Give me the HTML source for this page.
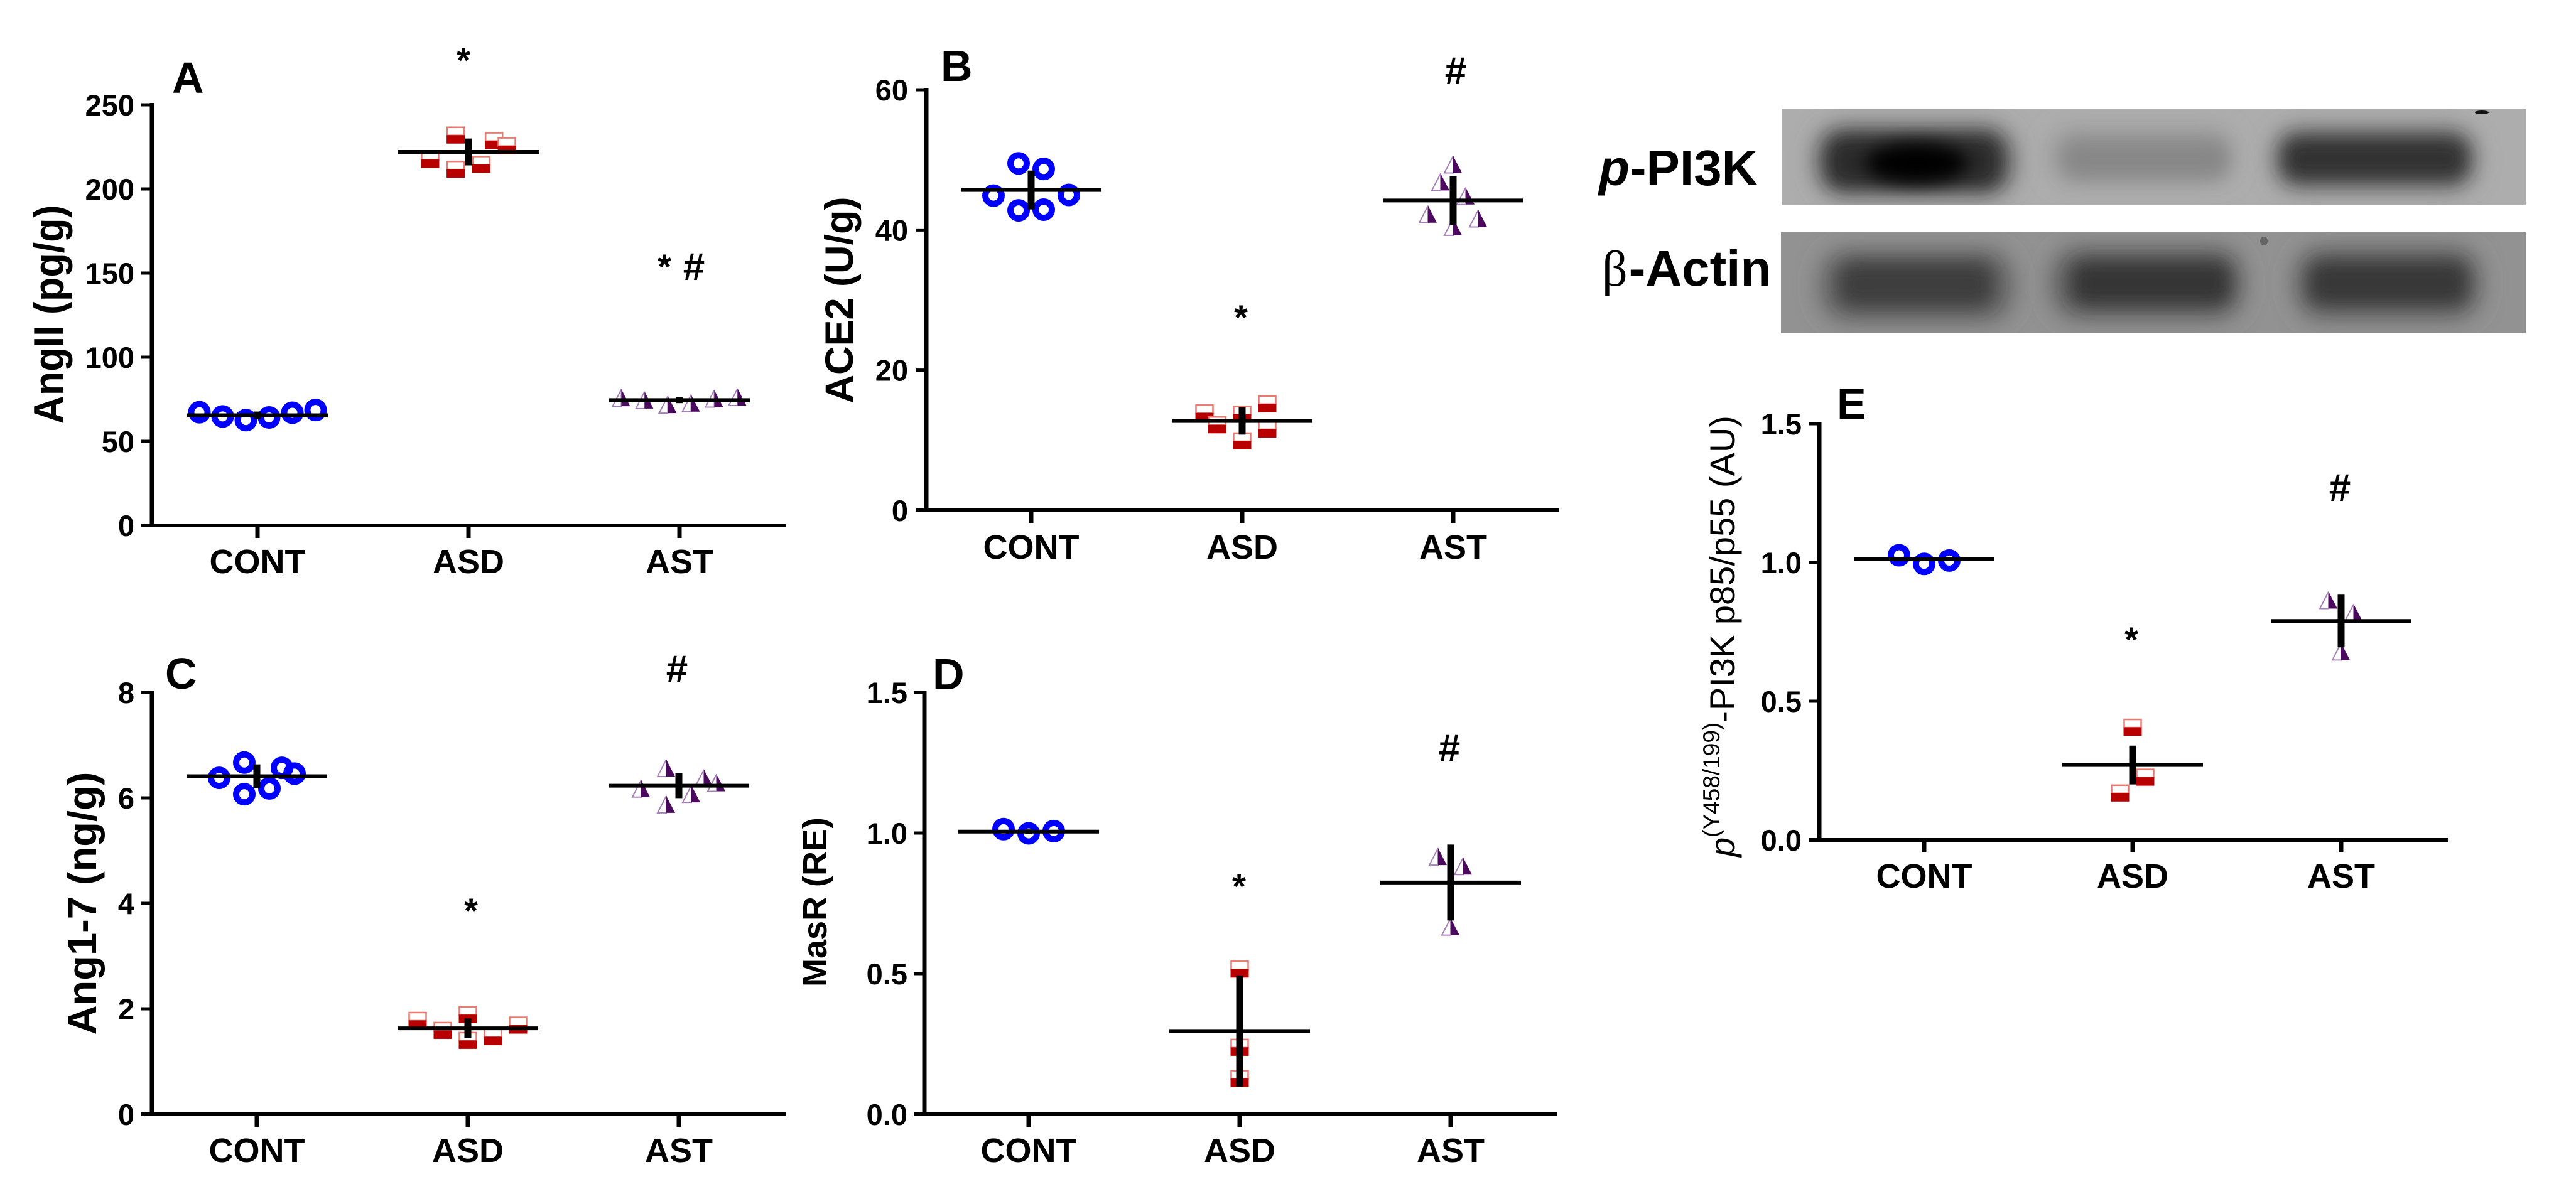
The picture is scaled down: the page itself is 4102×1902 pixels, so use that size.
<!DOCTYPE html>
<html lang="en">
<head>
<meta charset="utf-8">
<title>AngII, ACE2, Ang1-7, MasR and p-PI3K scatter plots</title>
<style>
html,body{margin:0;padding:0;background:#fff;width:4102px;height:1902px;overflow:hidden}
svg{display:block}
text{font-family:"Liberation Sans",sans-serif;fill:#000}
.tick{font-weight:700;font-size:47px}
.cat{font-weight:700;font-size:54px}
.letter{font-weight:700;font-size:70px}
.mark{font-weight:700}
.ytitle{font-weight:700}
</style>
</head>
<body>
<svg id="figure" xmlns="http://www.w3.org/2000/svg" width="4102" height="1902" viewBox="0 0 4102 1902">
  <defs>
    <filter id="blur-wide" x="-40%" y="-80%" width="180%" height="260%"><feGaussianBlur stdDeviation="18"/></filter>
    <filter id="blur-mid" x="-40%" y="-80%" width="180%" height="260%"><feGaussianBlur stdDeviation="14"/></filter>
    <clipPath id="clip-top-blot"><rect x="2838" y="174" width="1184" height="153"/></clipPath>
    <clipPath id="clip-bottom-blot"><rect x="2836" y="370" width="1186" height="161"/></clipPath>
  </defs>

  <!-- Western blot panels -->
  <g id="blot-top" clip-path="url(#clip-top-blot)">
    <rect x="2838" y="174" width="1184" height="153" fill="#adadad"/>
    <rect x="2890" y="200" width="318" height="112" rx="44" fill="#686868" filter="url(#blur-wide)"/>
    <rect x="2908" y="215" width="280" height="84" rx="30" fill="#2a2a2a" filter="url(#blur-mid)"/>
    <ellipse cx="3052" cy="260" rx="82" ry="32" fill="#000" filter="url(#blur-mid)"/>
    <rect x="3264" y="204" width="292" height="88" rx="36" fill="#9a9a9a" filter="url(#blur-wide)"/>
    <rect x="3285" y="224" width="262" height="58" rx="22" fill="#878787" filter="url(#blur-mid)"/>
    <rect x="3620" y="204" width="322" height="98" rx="40" fill="#6c6c6c" filter="url(#blur-wide)"/>
    <rect x="3636" y="220" width="292" height="66" rx="24" fill="#303030" filter="url(#blur-mid)"/>
    <ellipse cx="3952" cy="179" rx="11" ry="3" fill="#111"/>
  </g>
  <g id="blot-bottom" clip-path="url(#clip-bottom-blot)">
    <rect x="2836" y="370" width="1186" height="161" fill="#929292"/>
    <rect x="2898" y="398" width="308" height="114" rx="44" fill="#646464" filter="url(#blur-wide)"/>
    <rect x="2928" y="418" width="246" height="70" rx="24" fill="#3c3c3c" filter="url(#blur-mid)"/>
    <rect x="3266" y="394" width="306" height="114" rx="44" fill="#626262" filter="url(#blur-wide)"/>
    <rect x="3298" y="416" width="254" height="70" rx="24" fill="#343434" filter="url(#blur-mid)"/>
    <rect x="3654" y="394" width="296" height="114" rx="44" fill="#646464" filter="url(#blur-wide)"/>
    <rect x="3676" y="416" width="254" height="70" rx="24" fill="#383838" filter="url(#blur-mid)"/>
    <ellipse cx="3605" cy="384" rx="6" ry="7" fill="#666"/>
  </g>
  <text x="2546" y="295" font-size="80" font-weight="700"><tspan font-style="italic">p</tspan>-PI3K</text>
  <text x="2551" y="455" font-size="80" font-weight="700"><tspan font-family="'Liberation Serif',serif" font-weight="400">β</tspan><tspan dx="2">-Actin</tspan></text>

  <!-- Panel letters -->
  <text class="letter" x="274" y="148">A</text>
  <text class="letter" x="1498" y="129">B</text>
  <text class="letter" x="263" y="1097">C</text>
  <text class="letter" x="1485" y="1098">D</text>
  <text class="letter" x="2925" y="667">E</text>

  <!-- Y axis titles -->
  <text class="ytitle" font-size="68" text-anchor="middle" textLength="349" lengthAdjust="spacingAndGlyphs" transform="translate(101 501) rotate(-90)">AngII (pg/g)</text>
  <text class="ytitle" font-size="63" text-anchor="middle" transform="translate(1358 478) rotate(-90)">ACE2 (U/g)</text>
  <text class="ytitle" font-size="65" text-anchor="middle" transform="translate(153 1439) rotate(-90)">Ang1-7 (ng/g)</text>
  <text class="ytitle" font-size="54" text-anchor="middle" transform="translate(1316 1437) rotate(-90)">MasR (RE)</text>
  <text font-size="56" transform="translate(2762 1365) rotate(-90)"><tspan font-style="italic">p</tspan><tspan font-size="37" dy="-24">(Y458/199)</tspan><tspan dy="24">-PI3K p85/p55 (AU)</tspan></text>

  <!-- Significance marks -->
  <text class="mark" font-size="56" text-anchor="middle" x="738" y="115">*</text>
  <text class="mark" font-size="56" text-anchor="middle" x="1058" y="444">*</text>
  <text class="mark" font-size="62" text-anchor="middle" x="1105" y="446">#</text>
  <text class="mark" font-size="62" text-anchor="middle" x="2318" y="134">#</text>
  <text class="mark" font-size="56" text-anchor="middle" x="1976" y="525">*</text>
  <text class="mark" font-size="62" text-anchor="middle" x="1078" y="1087">#</text>
  <text class="mark" font-size="56" text-anchor="middle" x="750" y="1470">*</text>
  <text class="mark" font-size="62" text-anchor="middle" x="2308" y="1213">#</text>
  <text class="mark" font-size="56" text-anchor="middle" x="1973" y="1431">*</text>
  <text class="mark" font-size="62" text-anchor="middle" x="3726" y="798">#</text>
  <text class="mark" font-size="56" text-anchor="middle" x="3394" y="1038">*</text>
</svg>

<script>
// Shared categories
const categories = ["CONT", "ASD", "AST"];

// Panel A: AngII (pg/g)
const aTicks = ["0", "50", "100", "150", "200", "250"];
const aCont = [67.3, 64.8, 62.6, 64.2, 67.0, 68.6];
const aContSwarm = [-2.5, -1.5, -0.5, 0.5, 1.5, 2.5];
const aAsd = [217.5, 232, 211.7, 214.6, 228.7, 225.7];
const aAsdSwarm = [-1.65, -0.55, -0.55, 0.55, 1.1, 1.65];
const aAst = [75.7, 74.3, 71.6, 72.5, 75.2, 76.1];
const aAstSwarm = [-2.5, -1.5, -0.5, 0.5, 1.5, 2.5];
const aMeans = [65.5, 222, 74.5];
const aErrors = [2.2, 8, 1.8];

// Panel B: ACE2 (U/g)
const bTicks = ["0", "20", "40", "60"];
const bCont = [44.9, 49.5, 48.7, 45.0, 42.8, 42.9];
const bContSwarm = [-1.5, -0.5, 0.5, 1.5, -0.5, 0.5];
const bAsd = [13.9, 12.2, 13.7, 9.9, 15.2, 11.6];
const bAsdSwarm = [-1.5, -1, 0, 0, 1, 1];
const bAst = [49.3, 46.8, 44.8, 42.2, 41.6, 40.4];
const bAstSwarm = [0, -0.5, 0.5, -1, 1, 0];
const bMeans = [45.7, 12.75, 44.2];
const bErrors = [2.77, 1.95, 3.45];

// Panel C: Ang1-7 (ng/g)
const cTicks = ["0", "2", "4", "6", "8"];
const cCont = [6.38, 6.67, 6.07, 6.18, 6.57, 6.46];
const cContSwarm = [-1.5, -0.5, -0.5, 0.5, 1, 1.5];
const cAsd = [1.78, 1.59, 1.89, 1.40, 1.47, 1.69];
const cAsdSwarm = [-2, -1, 0, 0, 1, 2];
const cAst = [6.17, 6.56, 5.87, 6.07, 6.37, 6.28];
const cAstSwarm = [-1.5, -0.5, -0.5, 0.5, 1, 1.5];
const cMeans = [6.41, 1.63, 6.23];
const cErrors = [0.225, 0.187, 0.235];

// Panel D: MasR (RE)
const dTicks = ["0.0", "0.5", "1.0", "1.5"];
const dCont = [1.014, 0.999, 1.007];
const dContSwarm = [-1, 0, 1];
const dAsd = [0.516, 0.238, 0.127];
const dAsdSwarm = [0, 0, 0];
const dAst = [0.915, 0.881, 0.666];
const dAstSwarm = [-0.5, 0.5, 0];
const dMeans = [1.005, 0.296, 0.824];
const dErrors = [0.008, 0.198, 0.135];

// Panel E: p-PI3K p85/p55 (AU)
const eTicks = ["0.0", "0.5", "1.0", "1.5"];
const eCont = [1.026, 0.995, 1.007];
const eContSwarm = [-1, 0, 1];
const eAsd = [0.406, 0.226, 0.169];
const eAsdSwarm = [0, 0.5, -0.5];
const eAst = [0.863, 0.818, 0.678];
const eAstSwarm = [-0.5, 0.5, 0];
const eMeans = [1.012, 0.27, 0.789];
const eErrors = [0.006, 0.07, 0.095];

const NS = "http://www.w3.org/2000/svg";
const root = document.getElementById("figure");

function make(tag, attrs, parent) {
  const node = document.createElementNS(NS, tag);
  for (const k in attrs) node.setAttribute(k, attrs[k]);
  parent.appendChild(node);
  return node;
}

function drawCircle(parent, cx, cy) {
  const c = make("circle", {cx: cx, cy: cy, r: 13, fill: "none", stroke: "#0000ff", "stroke-width": 10}, parent);
  
  
}

function drawSquare(parent, cx, cy) {
  const g = make("g", {}, parent);
  
  
  make("rect", {x: cx - 13.5, y: cy - 12.5, width: 27, height: 13, fill: "#fff", stroke: "#ea7a70", "stroke-width": 2.5}, g);
  make("rect", {x: cx - 14.5, y: cy, width: 29, height: 13.5, fill: "#b80000"}, g);
}

function drawTriangle(parent, cx, cy) {
  const g = make("g", {}, parent);
  
  
  make("path", {d: "M" + cx + " " + (cy - 14) + "L" + (cx - 14) + " " + (cy + 13) + "L" + cx + " " + (cy + 13) + "Z", fill: "#fff", stroke: "#a57fb8", "stroke-width": 2}, g);
  make("path", {d: "M" + cx + " " + (cy - 14) + "L" + (cx + 14) + " " + (cy + 13) + "L" + cx + " " + (cy + 13) + "Z", fill: "#4b0a5e"}, g);
}

function drawPanel(id, o) {
  const g = make("g", {}, root);
  
  

  const yMax = parseFloat(o.ticks[o.ticks.length - 1]);
  const yScale = function (v) { return o.y0 - (v / yMax) * (o.y0 - o.yTop); };
  const xScale = function (i) { return o.x1 + i * o.spacing; };

  // markers
  const drawers = [drawCircle, drawSquare, drawTriangle];
  o.series.forEach(function (s, i) {
    s.values.forEach(function (v, j) {
      drawers[i](g, xScale(i) + s.swarm[j] * o.step, yScale(v));
    });
  });

  // mean and error bars
  o.means.forEach(function (m, i) {
    const mean = make("line", {x1: xScale(i) - 112, x2: xScale(i) + 112, y1: yScale(m), y2: yScale(m), stroke: "#000", "stroke-width": 6}, g);
    
    
    const err = make("line", {x1: xScale(i), x2: xScale(i), y1: yScale(m - o.errors[i]), y2: yScale(m + o.errors[i]), stroke: "#000", "stroke-width": 11}, g);
    
    
  });

  // axes
  const yAxis = make("line", {x1: o.axisX, x2: o.axisX, y1: o.yTop - 3, y2: o.y0 + 3, stroke: "#000", "stroke-width": 7}, g);
  
  
  const xAxis = make("line", {x1: o.axisX - 17, x2: o.xEnd, y1: o.y0, y2: o.y0, stroke: "#000", "stroke-width": 6}, g);
  
  

  o.ticks.forEach(function (label) {
    const ty = yScale(parseFloat(label));
    const tick = make("line", {x1: o.axisX - 17, x2: o.axisX, y1: ty, y2: ty, stroke: "#000", "stroke-width": 5}, g);
    
    
    const txt = make("text", {x: o.labelRight, y: ty + 17, "text-anchor": "end", "class": "tick"}, g);
    
    
    txt.textContent = label;
  });

  categories.forEach(function (name, i) {
    const tick = make("line", {x1: xScale(i), x2: xScale(i), y1: o.y0, y2: o.y0 + 20, stroke: "#000", "stroke-width": 7}, g);
    
    
    const txt = make("text", {x: xScale(i), y: o.catBaseline, "text-anchor": "middle", "class": "cat"}, g);
    
    
    txt.textContent = name;
  });
}

drawPanel("panel-a-angii", {
  ticks: aTicks, means: aMeans, errors: aErrors,
  series: [{values: aCont, swarm: aContSwarm}, {values: aAsd, swarm: aAsdSwarm}, {values: aAst, swarm: aAstSwarm}],
  axisX: 242, y0: 837, yTop: 167, x1: 410, spacing: 336, step: 37, xEnd: 1252, labelRight: 214, catBaseline: 913
});
drawPanel("panel-b-ace2", {
  ticks: bTicks, means: bMeans, errors: bErrors,
  series: [{values: bCont, swarm: bContSwarm}, {values: bAsd, swarm: bAsdSwarm}, {values: bAst, swarm: bAstSwarm}],
  axisX: 1475, y0: 813, yTop: 143, x1: 1642, spacing: 336, step: 40, xEnd: 2483, labelRight: 1446, catBaseline: 890
});
drawPanel("panel-c-ang17", {
  ticks: cTicks, means: cMeans, errors: cErrors,
  series: [{values: cCont, swarm: cContSwarm}, {values: cAsd, swarm: cAsdSwarm}, {values: cAst, swarm: cAstSwarm}],
  axisX: 242, y0: 1775, yTop: 1103, x1: 409, spacing: 336, step: 40, xEnd: 1252, labelRight: 214, catBaseline: 1851
});
drawPanel("panel-d-masr", {
  ticks: dTicks, means: dMeans, errors: dErrors,
  series: [{values: dCont, swarm: dContSwarm}, {values: dAsd, swarm: dAsdSwarm}, {values: dAst, swarm: dAstSwarm}],
  axisX: 1472, y0: 1775, yTop: 1103, x1: 1638, spacing: 336, step: 40, xEnd: 2480, labelRight: 1445, catBaseline: 1851
});
drawPanel("panel-e-ppi3k", {
  ticks: eTicks, means: eMeans, errors: eErrors,
  series: [{values: eCont, swarm: eContSwarm}, {values: eAsd, swarm: eAsdSwarm}, {values: eAst, swarm: eAstSwarm}],
  axisX: 2897, y0: 1338, yTop: 675, x1: 3064, spacing: 332, step: 40, xEnd: 3898, labelRight: 2869, catBaseline: 1414
});
</script>
</body>
</html>
